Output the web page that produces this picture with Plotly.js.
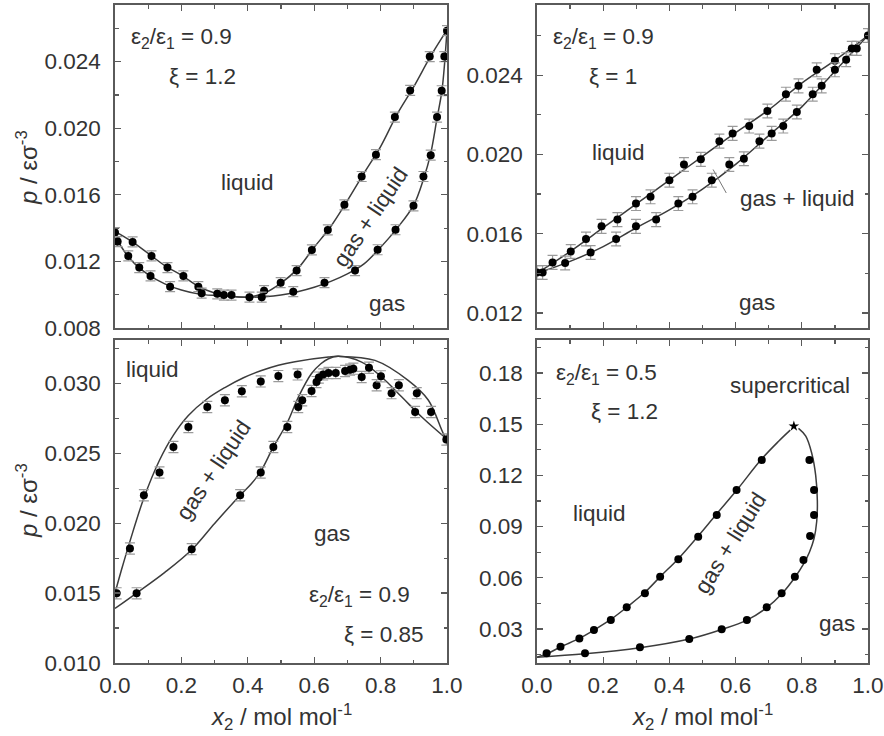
<!DOCTYPE html>
<html>
<head>
<meta charset="utf-8">
<script src="https://cdn.plot.ly/plotly-3.0.1.min.js"></script>
<style>html,body{margin:0;padding:0;background:#fff;}#chart{width:884px;height:736px;}</style>
</head>
<body>
<div id="chart"></div>
<script>
// ---------- Panel 1: eps2/eps1 = 0.9, xi = 1.2 ----------
const p1_simA_x = [0.000, 0.053, 0.110, 0.158, 0.206, 0.251, 0.308, 0.328, 0.351, 0.405, 0.449, 0.499, 0.547, 0.593, 0.641, 0.691, 0.743, 0.786, 0.843, 0.889, 0.948, 1.000];
const p1_simA_y = [0.01373, 0.01317, 0.01233, 0.01163, 0.01113, 0.01048, 0.01005, 0.00998, 0.00998, 0.00985, 0.01024, 0.01072, 0.01145, 0.01269, 0.01389, 0.01540, 0.01710, 0.01841, 0.02067, 0.02227, 0.02430, 0.02586];
const p1_simB_x = [0.008, 0.040, 0.073, 0.107, 0.166, 0.261, 0.442, 0.537, 0.631, 0.723, 0.791, 0.845, 0.899, 0.929, 0.951, 0.970, 0.984, 0.992];
const p1_simB_y = [0.01319, 0.01233, 0.01163, 0.01113, 0.01048, 0.01009, 0.00985, 0.01018, 0.01072, 0.01145, 0.01270, 0.01390, 0.01534, 0.01710, 0.01838, 0.02067, 0.02225, 0.02430];
const p1_lineA_x = [0, 0.05, 0.1, 0.15, 0.2, 0.25, 0.3, 0.35, 0.4, 0.45, 0.5, 0.55, 0.6, 0.65, 0.7, 0.75, 0.8, 0.85, 0.9, 0.95, 1.0];
const p1_lineA_y = [0.01380, 0.01320, 0.01248, 0.01175, 0.01118, 0.01052, 0.01010, 0.00990, 0.00985, 0.01010, 0.01070, 0.01155, 0.01285, 0.01410, 0.01565, 0.01730, 0.01890, 0.02085, 0.02250, 0.02430, 0.02590];
const p1_lineB_x = [0, 0.01, 0.03, 0.06, 0.1, 0.15, 0.2, 0.25, 0.3, 0.35, 0.4, 0.45, 0.5, 0.55, 0.6, 0.65, 0.7, 0.75, 0.8, 0.85, 0.9, 0.93, 0.95, 0.97, 0.985, 1.0];
const p1_lineB_y = [0.01380, 0.01320, 0.01255, 0.01185, 0.01120, 0.01065, 0.01028, 0.01005, 0.00995, 0.00990, 0.00985, 0.00988, 0.00998, 0.01018, 0.01045, 0.01080, 0.01125, 0.01185, 0.01285, 0.01400, 0.01540, 0.01700, 0.01840, 0.02060, 0.02230, 0.02590];
const p1_err = 0.0003;

// ---------- Panel 2: eps2/eps1 = 0.9, xi = 1 ----------
const p2_simA_x = [0.000, 0.017, 0.047, 0.102, 0.148, 0.195, 0.243, 0.299, 0.343, 0.400, 0.444, 0.495, 0.551, 0.591, 0.641, 0.696, 0.752, 0.790, 0.845, 0.900, 0.951, 0.966, 1.000];
const p2_simA_y = [0.01404, 0.01404, 0.01455, 0.01510, 0.01573, 0.01637, 0.01671, 0.01752, 0.01786, 0.01870, 0.01949, 0.01975, 0.02067, 0.02106, 0.02143, 0.02219, 0.02304, 0.02346, 0.02427, 0.02473, 0.02535, 0.02535, 0.02600];
const p2_simB_x = [0.085, 0.162, 0.239, 0.299, 0.360, 0.427, 0.470, 0.528, 0.581, 0.625, 0.672, 0.709, 0.744, 0.785, 0.833, 0.860, 0.900, 0.934];
const p2_simB_y = [0.01452, 0.01505, 0.01573, 0.01637, 0.01671, 0.01752, 0.01786, 0.01870, 0.01949, 0.01978, 0.02067, 0.02106, 0.02143, 0.02214, 0.02304, 0.02346, 0.02427, 0.02478];
const p2_lineA_x = [0, 0.1, 0.2, 0.3, 0.4, 0.5, 0.6, 0.7, 0.8, 0.9, 1.0];
const p2_lineA_y = [0.01400, 0.01510, 0.01630, 0.01750, 0.01870, 0.01990, 0.02110, 0.02225, 0.02360, 0.02475, 0.02600];
const p2_lineB_x = [0, 0.1, 0.2, 0.3, 0.4, 0.5, 0.6, 0.7, 0.8, 0.9, 0.95, 1.0];
const p2_lineB_y = [0.01400, 0.01460, 0.01535, 0.01630, 0.01720, 0.01825, 0.01950, 0.02095, 0.02240, 0.02420, 0.02510, 0.02600];
const p2_err = 0.00035;

// ---------- Panel 3: eps2/eps1 = 0.9, xi = 0.85 ----------
const p3_simA_x = [0.005, 0.045, 0.087, 0.134, 0.176, 0.221, 0.278, 0.331, 0.382, 0.439, 0.492, 0.550];
const p3_simA_y = [0.01498, 0.01819, 0.02200, 0.02362, 0.02545, 0.02688, 0.02831, 0.02879, 0.02943, 0.03014, 0.03052, 0.03064];
const p3_simB_x = [0.065, 0.231, 0.377, 0.439, 0.477, 0.519, 0.552, 0.564, 0.592, 0.607, 0.614, 0.627, 0.643, 0.665, 0.693, 0.708, 0.718, 0.743, 0.788, 0.833, 0.904, 0.998];
const p3_simB_y = [0.01498, 0.01814, 0.02200, 0.02362, 0.02545, 0.02688, 0.02831, 0.02879, 0.02945, 0.03009, 0.03041, 0.03064, 0.03074, 0.03074, 0.03088, 0.03098, 0.03105, 0.03045, 0.02986, 0.02930, 0.02795, 0.02598];
const p3_simC_x = [0.765, 0.801, 0.855, 0.909, 0.952];
const p3_simC_y = [0.03112, 0.03050, 0.02986, 0.02930, 0.02795];
const p3_lineA_x = [0, 0.02, 0.045, 0.087, 0.134, 0.176, 0.221, 0.278, 0.331, 0.387, 0.439, 0.492, 0.542, 0.643, 0.673, 0.783, 0.883, 0.944, 0.989, 1.0];
const p3_lineA_y = [0.01500, 0.01670, 0.01870, 0.02180, 0.02450, 0.02630, 0.02770, 0.02890, 0.02970, 0.03040, 0.03090, 0.03130, 0.03155, 0.03188, 0.03193, 0.03164, 0.03021, 0.02879, 0.02641, 0.02600];
const p3_lineB_x = [0, 0.065, 0.15, 0.231, 0.3, 0.377, 0.41, 0.439, 0.477, 0.519, 0.552, 0.592, 0.62, 0.643, 0.673, 0.743, 0.803, 0.864, 0.924, 1.0];
const p3_lineB_y = [0.01390, 0.01500, 0.01648, 0.01810, 0.01998, 0.02200, 0.02280, 0.02370, 0.02545, 0.02720, 0.02900, 0.03070, 0.03140, 0.03176, 0.03193, 0.03152, 0.03045, 0.02902, 0.02759, 0.02600];
const p3_err = 0.0004;

// ---------- Panel 4: eps2/eps1 = 0.5, xi = 1.2 ----------
const p4_simA_x = [0.029, 0.071, 0.128, 0.172, 0.223, 0.271, 0.326, 0.372, 0.427, 0.487, 0.543, 0.603, 0.679];
const p4_simA_y = [0.0158, 0.0196, 0.0245, 0.0294, 0.0353, 0.0427, 0.0509, 0.0606, 0.0708, 0.0841, 0.0968, 0.1114, 0.1290];
const p4_simB_x = [0.145, 0.311, 0.460, 0.558, 0.634, 0.694, 0.739, 0.779, 0.805, 0.825, 0.837, 0.837, 0.823];
const p4_simB_y = [0.0158, 0.0193, 0.0241, 0.0298, 0.0353, 0.0427, 0.0509, 0.0606, 0.0704, 0.0845, 0.0968, 0.1114, 0.1290];
const p4_crit_x = [0.776];
const p4_crit_y = [0.1488];
const p4_lineA_x = [0, 0.034, 0.072, 0.128, 0.175, 0.223, 0.273, 0.326, 0.374, 0.427, 0.487, 0.540, 0.605, 0.676, 0.730, 0.765];
const p4_lineA_y = [0.0135, 0.0158, 0.0196, 0.0245, 0.0297, 0.0356, 0.0430, 0.0515, 0.0610, 0.0712, 0.0845, 0.0968, 0.1117, 0.1290, 0.1400, 0.1465];
const p4_lineB_x = [0.790, 0.812, 0.830, 0.842, 0.847, 0.845, 0.837, 0.823, 0.805, 0.780, 0.739, 0.694, 0.634, 0.558, 0.460, 0.311, 0.145, 0];
const p4_lineB_y = [0.1475, 0.1430, 0.1330, 0.1200, 0.1050, 0.0930, 0.0830, 0.0750, 0.0680, 0.0605, 0.0505, 0.0425, 0.0352, 0.0297, 0.0241, 0.0190, 0.0155, 0.0135];

// ---------- ticks ----------
const xTickVals = [0, 0.2, 0.4, 0.6, 0.8, 1.0];
const xTickText = ['0.0', '0.2', '0.4', '0.6', '0.8', '1.0'];
const p1_yTicks = [0.008, 0.012, 0.016, 0.020, 0.024];
const p2_yTicks = [0.012, 0.016, 0.020, 0.024];
const p3_yTicks = [0.010, 0.015, 0.020, 0.025, 0.030];
const p4_yTicks = [0.03, 0.06, 0.09, 0.12, 0.15, 0.18];

// ---------- styling ----------
const FONT = 'Liberation Sans, Arial, Helvetica, sans-serif';
const TXT = '#333333';
const LINE_C = '#3c3c3c';
const FRAME_C = '#5a5a5a';
const FS = 22.5;

function lineTrace(x, y, xa, ya) {
  return {x: x, y: y, xaxis: xa, yaxis: ya, mode: 'lines', type: 'scatter',
    line: {color: LINE_C, width: 1.5, shape: 'spline', smoothing: 1}, hoverinfo: 'skip', showlegend: false};
}
function simTrace(x, y, xa, ya, err) {
  const t = {x: x, y: y, xaxis: xa, yaxis: ya, mode: 'markers', type: 'scatter',
    marker: {color: '#000', size: 8}, showlegend: false};
  if (err) t.error_y = {type: 'constant', value: err, color: '#9a9a9a', thickness: 1.2, width: 5};
  return t;
}

const data = [
  lineTrace(p1_lineA_x, p1_lineA_y, 'x', 'y'),
  lineTrace(p1_lineB_x, p1_lineB_y, 'x', 'y'),
  simTrace(p1_simA_x, p1_simA_y, 'x', 'y', p1_err),
  simTrace(p1_simB_x, p1_simB_y, 'x', 'y', p1_err),
  lineTrace(p2_lineA_x, p2_lineA_y, 'x2', 'y2'),
  lineTrace(p2_lineB_x, p2_lineB_y, 'x2', 'y2'),
  simTrace(p2_simA_x, p2_simA_y, 'x2', 'y2', p2_err),
  simTrace(p2_simB_x, p2_simB_y, 'x2', 'y2', p2_err),
  lineTrace(p3_lineA_x, p3_lineA_y, 'x3', 'y3'),
  lineTrace(p3_lineB_x, p3_lineB_y, 'x3', 'y3'),
  simTrace(p3_simA_x, p3_simA_y, 'x3', 'y3', p3_err),
  simTrace(p3_simB_x, p3_simB_y, 'x3', 'y3', p3_err),
  simTrace(p3_simC_x, p3_simC_y, 'x3', 'y3', p3_err),
  lineTrace(p4_lineA_x, p4_lineA_y, 'x4', 'y4'),
  lineTrace(p4_lineB_x, p4_lineB_y, 'x4', 'y4'),
  simTrace(p4_simA_x, p4_simA_y, 'x4', 'y4', 0),
  simTrace(p4_simB_x, p4_simB_y, 'x4', 'y4', 0),
  {x: p4_crit_x, y: p4_crit_y, xaxis: 'x4', yaxis: 'y4', mode: 'markers', type: 'scatter',
   marker: {color: '#000', size: 8, symbol: 'star'}, showlegend: false}
];

const W = 884, H = 736;
function dom(a, b, total, flip) { return flip ? [1 - b / total, 1 - a / total] : [a / total, b / total]; }

function xAxis(domain, anchor, labels) {
  return {domain: domain, anchor: anchor, range: [0, 1], tickmode: 'array', tickvals: xTickVals, ticktext: xTickText,
    showticklabels: labels, ticks: 'inside', ticklen: 6, tickwidth: 1.2, tickcolor: FRAME_C,
    minor: {tickmode: 'linear', tick0: 0, dtick: 0.1, ticks: 'inside', ticklen: 3.5, tickwidth: 1.2, tickcolor: FRAME_C},
    showline: true, mirror: 'allticks', linecolor: FRAME_C, linewidth: 1.6, showgrid: false, zeroline: false,
    tickfont: {family: FONT, size: FS, color: TXT}, ticklabelstandoff: 1, fixedrange: true};
}
function yAxis(domain, anchor, range, vals, fmt, minorStep) {
  return {domain: domain, anchor: anchor, range: range, tickmode: 'array', tickvals: vals,
    ticktext: vals.map(v => v.toFixed(fmt)),
    ticks: 'inside', ticklen: 6, tickwidth: 1.2, tickcolor: FRAME_C,
    minor: {tickmode: 'linear', tick0: vals[0], dtick: minorStep, ticks: 'inside', ticklen: 3.5, tickwidth: 1.2, tickcolor: FRAME_C},
    showline: true, mirror: 'allticks', linecolor: FRAME_C, linewidth: 1.6, showgrid: false, zeroline: false,
    tickfont: {family: FONT, size: FS, color: TXT}, ticklabelstandoff: 8, fixedrange: true};
}

const colL = dom(115, 447, W, false), colR = dom(537, 868, W, false);
const rowT = dom(5, 328, H, true), rowB = dom(340, 663, H, true);

function ann(text, px, py, opts) {
  return Object.assign({text: text, x: px / W, y: 1 - py / H, xref: 'paper', yref: 'paper', showarrow: false,
    xanchor: 'center', yanchor: 'middle', font: {family: FONT, size: FS, color: TXT}}, opts || {});
}
const EPS = (v) => 'ε<sub>2</sub>/ε<sub>1</sub> = ' + v;
const YT = '<i>p</i> / εσ<sup>-3</sup>';
const XT = '<i>x</i><sub>2</sub> / mol mol<sup>-1</sup>';
const TFONT = {family: FONT, size: 24, color: TXT};

const annotations = [
  ann(EPS('0.9'), 129, 38, {xanchor: 'left'}),
  ann('ξ = 1.2', 167, 76, {xanchor: 'left'}),
  ann('liquid', 247, 183),
  ann('gas', 387, 303),
  ann('gas + liquid', 370, 217, {textangle: -56}),
  ann(EPS('0.9'), 551, 38, {xanchor: 'left'}),
  ann('ξ = 1', 587, 76, {xanchor: 'left'}),
  ann('liquid', 618, 152),
  ann('gas + liquid', 797, 199),
  ann('gas', 757, 302),
  {text: '', x: 0.532, y: 0.01924, xref: 'x2', yref: 'y2', showarrow: true, arrowhead: 0, arrowwidth: 1,
   arrowcolor: '#777', ax: 14, ay: 25, standoff: 0},
  ann('liquid', 152, 370),
  ann('gas + liquid', 213, 470, {textangle: -56}),
  ann('gas', 332, 533),
  ann(EPS('0.9'), 307, 596, {xanchor: 'left'}),
  ann('ξ = 0.85', 342, 634, {xanchor: 'left'}),
  ann(EPS('0.5'), 554, 374, {xanchor: 'left'}),
  ann('ξ = 1.2', 589, 411, {xanchor: 'left'}),
  ann('supercritical', 790, 385),
  ann('liquid', 599, 513),
  ann('gas + liquid', 730, 543, {textangle: -58}),
  ann('gas', 837, 623),
  ann(YT, 27, 168, {textangle: -90, font: TFONT}),
  ann(YT, 27, 501, {textangle: -90, font: TFONT}),
  ann(XT, 281, 717, {font: TFONT}),
  ann(XT, 702, 717, {font: TFONT})
];

const layout = {
  width: W, height: H, margin: {l: 0, r: 0, t: 0, b: 0},
  paper_bgcolor: '#fff', plot_bgcolor: '#fff', showlegend: false,
  font: {family: FONT, size: FS, color: TXT},
  xaxis: xAxis(colL, 'y', false),
  yaxis: yAxis(rowT, 'x', [0.008, 0.0274], p1_yTicks, 3, 0.002),
  xaxis2: xAxis(colR, 'y2', false),
  yaxis2: yAxis(rowT, 'x2', [0.01124, 0.02754], p2_yTicks, 3, 0.002),
  xaxis3: xAxis(colL, 'y3', true),
  yaxis3: yAxis(rowB, 'x3', [0.010, 0.0331], p3_yTicks, 3, 0.0025),
  xaxis4: xAxis(colR, 'y4', true),
  yaxis4: yAxis(rowB, 'x4', [0.0101, 0.1993], p4_yTicks, 2, 0.015),
  annotations: annotations
};

Plotly.newPlot('chart', data, layout, {displayModeBar: false, staticPlot: true});
</script>
</body>
</html>
